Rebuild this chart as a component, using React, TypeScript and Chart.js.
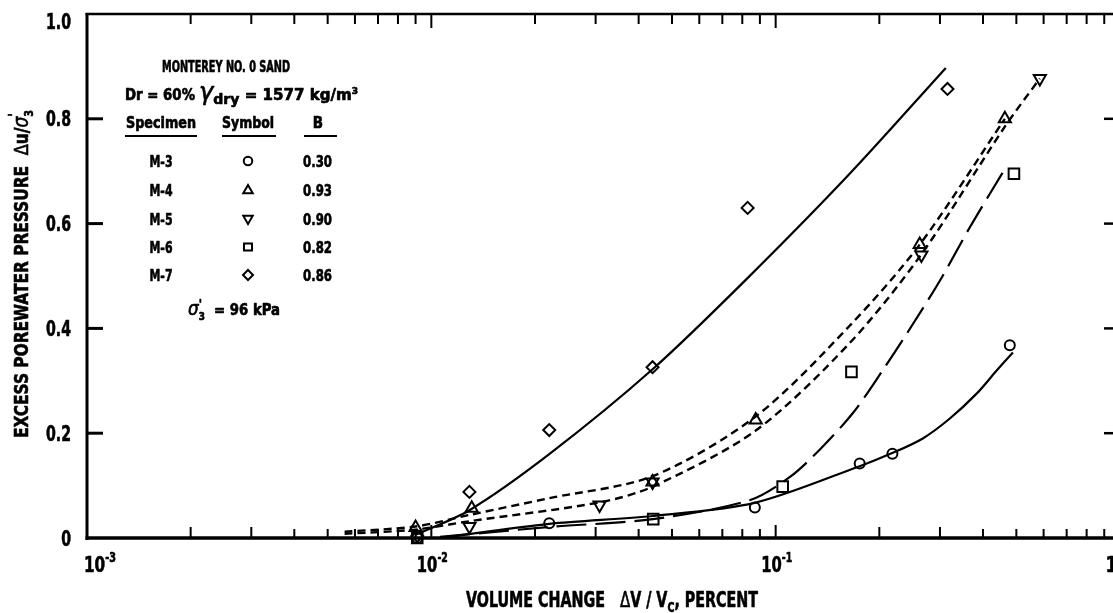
import React, { useEffect, useRef } from 'react';
import { Chart, registerables } from 'chart.js';

Chart.register(...registerables);

const FONT = '"Liberation Sans Narrow", "DejaVu Sans Condensed", "Arial Narrow", sans-serif';

// ---- Fitted curves ----
const m7CurveX = [0.0090, 0.0129, 0.0220, 0.0439, 0.0823, 0.164, 0.312];
const m7CurveY = [0.006, 0.053, 0.160, 0.322, 0.494, 0.695, 0.897];

const m4CurveX = [0.0056, 0.0090, 0.0129, 0.022, 0.0439, 0.0875, 0.164, 0.262, 0.463];
const m4CurveY = [0.012, 0.022, 0.044, 0.076, 0.118, 0.232, 0.405, 0.56, 0.80];

const m5CurveX = [0.0056, 0.0090, 0.0129, 0.0308, 0.0439, 0.0875, 0.164, 0.264, 0.463, 0.585];
const m5CurveY = [0.008, 0.016, 0.032, 0.068, 0.098, 0.205, 0.372, 0.54, 0.785, 0.877];

const m6CurveX = [0.0106, 0.022, 0.044, 0.084, 0.1098, 0.134, 0.1674, 0.2046, 0.2403, 0.2998, 0.3664, 0.4569];
const m6CurveY = [0.002, 0.021, 0.036, 0.072, 0.116, 0.168, 0.238, 0.32, 0.39, 0.491, 0.593, 0.698];

const m3CurveX = [0.0106, 0.022, 0.044, 0.0869, 0.1754, 0.218, 0.2675, 0.3205, 0.384, 0.439, 0.4887];
const m3CurveY = [0.0, 0.027, 0.042, 0.067, 0.137, 0.162, 0.19, 0.228, 0.276, 0.32, 0.354];

// ---- Measured points ----
const m3X = [0.0091, 0.022, 0.087, 0.1754, 0.2183, 0.4786];
const m3Y = [0.0, 0.028, 0.058, 0.142, 0.161, 0.368];

const m4X = [0.0090, 0.0131, 0.0439, 0.0875, 0.262, 0.463];
const m4Y = [0.02, 0.057, 0.107, 0.225, 0.56, 0.80];

const m5X = [0.0129, 0.0308, 0.0439, 0.265, 0.585];
const m5Y = [0.022, 0.063, 0.107, 0.54, 0.877];

const m6X = [0.0091, 0.0441, 0.1048, 0.166, 0.492];
const m6Y = [0.0, 0.036, 0.098, 0.317, 0.695];

const m7X = [0.0091, 0.0129, 0.022, 0.0439, 0.0829, 0.3155];
const m7Y = [0.004, 0.088, 0.206, 0.326, 0.630, 0.857];

// ---- Axes ----
const xMin = 0.001;
const xMax = 1;
const yMin = 0;
const yMax = 1.0;
const yStep = 0.2;
const xDecades = [0.001, 0.01, 0.1, 1];
const xDecadeExp = ['-3', '-2', '-1', '0'];
const yInnerTicks = [0.2, 0.4, 0.6, 0.8];

// ---- Legend table ----
const specimens = ['M-3', 'M-4', 'M-5', 'M-6', 'M-7'];
const symbols = ['circle', 'up', 'down', 'square', 'diamond'];
const bValues = ['0.30', '0.93', '0.90', '0.82', '0.86'];

type Seg = { t: string; size: number; dy?: number; italic?: boolean; adv?: boolean; bold?: boolean };

function segFont(s: Seg) {
  return `${s.italic ? 'italic ' : ''}${s.bold === false ? '' : 'bold '}${s.size}px ${FONT}`;
}

function richWidth(ctx: CanvasRenderingContext2D, segs: Seg[]) {
  let w = 0;
  for (const s of segs) {
    ctx.font = segFont(s);
    if (s.adv !== false) w += ctx.measureText(s.t).width;
  }
  return w;
}

function drawRich(
  ctx: CanvasRenderingContext2D,
  segs: Seg[],
  x: number,
  y: number,
  align: 'left' | 'center' | 'right',
  target?: number,
  scaleX?: number
) {
  const w = richWidth(ctx, segs);
  const sx = scaleX ?? (target ? target / w : 1);
  ctx.save();
  ctx.translate(x, y);
  ctx.scale(sx, 1);
  ctx.textAlign = 'left';
  ctx.textBaseline = 'alphabetic';
  ctx.fillStyle = '#000';
  ctx.strokeStyle = '#000';
  ctx.lineWidth = 0.6;
  ctx.lineJoin = 'round';
  let cx = align === 'center' ? -w / 2 : align === 'right' ? -w : 0;
  for (const s of segs) {
    ctx.font = segFont(s);
    ctx.fillText(s.t, cx, s.dy ?? 0);
    ctx.strokeText(s.t, cx, s.dy ?? 0);
    if (s.adv !== false) cx += ctx.measureText(s.t).width;
  }
  ctx.restore();
}

function drawSymbol(ctx: CanvasRenderingContext2D, kind: string, x: number, y: number, r: number) {
  ctx.beginPath();
  if (kind === 'circle') {
    ctx.arc(x, y, r * 0.85, 0, Math.PI * 2);
  } else if (kind === 'up') {
    ctx.moveTo(x, y - r);
    ctx.lineTo(x + r * 0.95, y + r * 0.65);
    ctx.lineTo(x - r * 0.95, y + r * 0.65);
    ctx.closePath();
  } else if (kind === 'down') {
    ctx.moveTo(x, y + r);
    ctx.lineTo(x + r * 0.95, y - r * 0.65);
    ctx.lineTo(x - r * 0.95, y - r * 0.65);
    ctx.closePath();
  } else if (kind === 'square') {
    ctx.rect(x - r * 0.8, y - r * 0.7, r * 1.6, r * 1.4);
  } else {
    ctx.moveTo(x, y - r);
    ctx.lineTo(x + r, y);
    ctx.lineTo(x, y + r);
    ctx.lineTo(x - r, y);
    ctx.closePath();
  }
  ctx.stroke();
}

function line(ctx: CanvasRenderingContext2D, x1: number, y1: number, x2: number, y2: number, w: number) {
  ctx.lineWidth = w;
  ctx.beginPath();
  ctx.moveTo(x1, y1);
  ctx.lineTo(x2, y2);
  ctx.stroke();
}

function yLabel(v: number) {
  return v === 0 ? '0' : v.toFixed(1);
}

const framePlugin = {
  id: 'framePlugin',
  afterDraw(chart: any) {
    const { ctx, chartArea: a, scales } = chart;
    const xs = scales.x;
    const ys = scales.y;
    ctx.save();
    ctx.strokeStyle = '#000';
    ctx.fillStyle = '#000';
    ctx.lineCap = 'butt';

    // frame
    line(ctx, a.left, a.top - 1, a.left, a.bottom + 2, 3);
    line(ctx, a.left - 1.5, a.bottom, a.right + 2, a.bottom, 3.5);
    line(ctx, a.left - 1.5, a.top, a.right + 2, a.top, 2.5);
    line(ctx, a.right, a.top, a.right, a.bottom, 2.5);

    // x ticks (bottom & top), log minor ticks
    for (let d = 0; d < xDecades.length - 1; d++) {
      for (let m = 1; m <= 9; m++) {
        const v = xDecades[d] * m;
        const px = xs.getPixelForValue(v);
        const major = m === 1;
        const bl = major ? 13 : m <= 3 ? 11 : 9;
        const tl = major ? 14 : 10;
        if (d > 0 || m > 1) {
          line(ctx, px, a.bottom, px, a.bottom - bl, 2);
          line(ctx, px, a.top, px, a.top + tl, 2);
        }
      }
    }
    // y ticks left & right
    for (const v of yInnerTicks) {
      const py = ys.getPixelForValue(v);
      line(ctx, a.left, py, a.left + 16, py, 3);
      line(ctx, a.right, py, a.right - 16, py, 2.5);
    }

    // y tick labels (from the scale's own ticks), condensed bold
    ctx.font = `bold 21px ${FONT}`;
    const ysx = 25 / ctx.measureText('0.8').width;
    for (const t of ys.ticks) {
      const v = Number(t.value);
      let py = ys.getPixelForValue(v);
      if (py < a.top + 7) py = a.top + 7;
      drawRich(ctx, [{ t: yLabel(v), size: 21 }], a.left - 16, py + 7.5, 'right', undefined, ysx);
    }

    // x decade labels
    xDecades.forEach((v, i) => {
      const px = xs.getPixelForValue(v);
      const segs: Seg[] = [
        { t: '10', size: 22 },
        { t: xDecadeExp[i], size: 14, dy: -10 },
      ];
      if (i === 0) drawRich(ctx, segs, px - 3, a.bottom + 34, 'left', 32);
      else drawRich(ctx, segs, px + 1, a.bottom + 34, 'center', 31);
    });

    // x title
    drawRich(
      ctx,
      [
        { t: 'VOLUME CHANGE   ', size: 21 },
        { t: 'Δ', size: 22, bold: false },
        { t: 'V / V', size: 21 },
        { t: 'C', size: 14, dy: 5 },
        { t: ', PERCENT', size: 21 },
      ],
      612,
      607,
      'center',
      292
    );

    // y title (rotated)
    ctx.save();
    ctx.translate(28, 274);
    ctx.rotate(-Math.PI / 2);
    drawRich(
      ctx,
      [
        { t: 'EXCESS POREWATER PRESSURE  ', size: 19 },
        { t: 'Δ', size: 20, bold: false },
        { t: 'u/', size: 19 },
        { t: 'σ', size: 21, italic: true, bold: false },
        { t: "'", size: 14, dy: -10, adv: false },
        { t: '3', size: 12, dy: 5 },
      ],
      0,
      0,
      'center',
      328
    );
    ctx.restore();

    // ---- legend table ----
    drawRich(ctx, [{ t: 'MONTEREY NO. 0 SAND', size: 15 }], 226, 72, 'center', 128);
    drawRich(ctx, [{ t: 'Dr = 60%', size: 15 }], 125, 100, 'left', 70);
    drawRich(
      ctx,
      [
        { t: 'γ', size: 24, italic: true, bold: false },
        { t: 'dry', size: 14, dy: 4 },
        { t: ' = 1577 kg/m', size: 15 },
        { t: '3', size: 9, dy: -6 },
      ],
      199,
      100,
      'left',
      159
    );
    drawRich(ctx, [{ t: 'Specimen', size: 15 }], 161, 128, 'center', 70);
    drawRich(ctx, [{ t: 'Symbol', size: 15 }], 248, 128, 'center', 52);
    drawRich(ctx, [{ t: 'B', size: 15 }], 318, 128, 'center');
    line(ctx, 125, 136, 197, 136, 2);
    line(ctx, 222, 136, 276, 136, 2);
    line(ctx, 304, 136, 337, 136, 2);

    const rowBase = [167, 196, 225, 253, 281];
    specimens.forEach((s, i) => {
      drawRich(ctx, [{ t: s, size: 16 }], 161, rowBase[i], 'center', 23);
      drawRich(ctx, [{ t: bValues[i], size: 16 }], 303, rowBase[i], 'left', 29);
      ctx.lineWidth = 2;
      drawSymbol(ctx, symbols[i], 248, rowBase[i] - 6, 5);
    });

    drawRich(
      ctx,
      [
        { t: 'σ', size: 19, italic: true, bold: false },
        { t: "'", size: 12, dy: -7, adv: false },
        { t: '3', size: 10, dy: 5 },
        { t: '  = 96 kPa', size: 15 },
      ],
      188,
      315,
      'left',
      92
    );

    ctx.restore();
  },
};

function pts(xs: number[], ys: number[]) {
  return xs.map((x, i) => ({ x, y: ys[i] }));
}

function curve(xs: number[], ys: number[], dash: number[], width: number) {
  return {
    type: 'line' as const,
    data: pts(xs, ys),
    borderColor: '#000',
    borderWidth: width,
    borderDash: dash,
    pointRadius: 0,
    fill: false,
    tension: 0.3,
    showLine: true,
  };
}

function markers(xs: number[], ys: number[], style: string, r: number, rot = 0) {
  return {
    type: 'line' as const,
    data: pts(xs, ys),
    showLine: false,
    pointStyle: style,
    pointRadius: r,
    pointRotation: rot,
    pointBorderWidth: 2,
    pointBorderColor: '#000',
    pointBackgroundColor: 'rgba(0,0,0,0)',
    clip: false as const,
  };
}

export default function App() {
  const ref = useRef<HTMLCanvasElement>(null);

  useEffect(() => {
    if (!ref.current) return;
    const chart = new Chart(ref.current, {
      type: 'line',
      data: {
        datasets: [
          curve(m7CurveX, m7CurveY, [], 2.2),
          curve(m4CurveX, m4CurveY, [8, 5], 2.4),
          curve(m5CurveX, m5CurveY, [8, 5], 2.4),
          curve(m6CurveX, m6CurveY, [30, 9], 2.2),
          curve(m3CurveX, m3CurveY, [], 2.2),
          markers(m3X, m3Y, 'circle', 5),
          markers(m4X, m4Y, 'triangle', 7),
          markers(m5X, m5Y, 'triangle', 7, 180),
          markers(m6X, m6Y, 'rect', 7.5),
          markers(m7X, m7Y, 'rectRot', 6),
        ] as any,
      },
      options: {
        responsive: false,
        animation: false,
        devicePixelRatio: 1,
        events: [],
        layout: { padding: { top: 14, right: 20, left: 0, bottom: 0 } },
        plugins: { legend: { display: false }, tooltip: { enabled: false } },
        scales: {
          x: {
            type: 'logarithmic',
            min: xMin,
            max: xMax,
            grid: { display: false, drawTicks: false },
            border: { display: false },
            ticks: { display: false },
            afterFit: (s: any) => {
              s.height = 75;
              s.paddingLeft = 0;
              s.paddingRight = 0;
            },
          },
          y: {
            type: 'linear',
            min: yMin,
            max: yMax,
            grid: { display: false, drawTicks: false },
            border: { display: false },
            ticks: { display: false, stepSize: yStep },
            afterFit: (s: any) => {
              s.width = 87;
              s.paddingTop = 0;
              s.paddingBottom = 0;
            },
          },
        },
      } as any,
      plugins: [framePlugin],
    });
    return () => chart.destroy();
  }, []);

  return (
    <div
      style={{
        position: 'fixed',
        left: 0,
        top: 0,
        width: 1113,
        height: 613,
        overflow: 'hidden',
        background: '#fff',
      }}
    >
      <canvas ref={ref} width={1140} height={613} style={{ display: 'block', width: 1140, height: 613 }} />
    </div>
  );
}
